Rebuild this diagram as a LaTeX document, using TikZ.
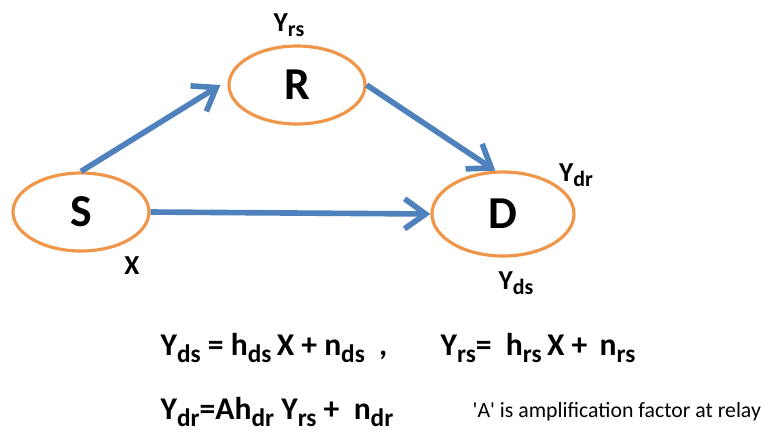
\documentclass[tikz,border=0pt]{standalone}
\usepackage{fontspec}
\usepackage{graphicx}
\setmainfont{Carlito}
\usetikzlibrary{arrows.meta,shapes.geometric,positioning}
\definecolor{nodeorange}{RGB}{240,150,75}
\definecolor{linkblue}{RGB}{79,129,189}
\newcommand{\lo}[1]{\raisebox{-0.4ex}{\scalebox{0.8}{#1}}}

\begin{document}
\begin{tikzpicture}[x=1cm,y=1cm]
\tikzset{
  relaynode/.style={ellipse,draw=nodeorange,line width=0.9pt,minimum width=1.36cm,minimum height=0.78cm,inner sep=0pt,font=\fontsize{13}{15}\selectfont\bfseries},
  link/.style={-{Straight Barb[length=2.1mm,width=3mm]},draw=linkblue,line width=1.6pt},
  sig/.style={font=\fontsize{7.8}{9}\selectfont\bfseries,inner sep=0pt},
  eqn/.style={font=\fontsize{9}{11}\selectfont\bfseries,inner sep=0pt,anchor=west}
}
\useasboundingbox (0,0) rectangle (7.71,-4.41);
\node[relaynode] (n_S) at (0.81,-2.12) {S};
\node[relaynode] (n_R) at (2.97,-0.85) {R};
\node[relaynode,minimum width=1.42cm,minimum height=0.84cm] (n_D) at (5.03,-2.14) {D};
\node[sig] (l_Yrs) at (2.89,-0.25) {Y\lo{rs}};
\node[sig] (l_Ydr) at (5.76,-1.75) {Y\lo{dr}};
\node[sig] (l_X) at (1.32,-2.66) {X};
\node[sig] (l_Yds) at (5.16,-2.83) {Y\lo{ds}};
\node[eqn] (e_ds) at (1.60,-3.48) {Y\lo{ds} {\small =} h\lo{ds}\,X + n\lo{ds}\ \ ,};
\node[eqn] (e_rs) at (4.40,-3.48) {Y\lo{rs}= \ h\lo{rs}\,X + \,n\lo{rs}};
\node[eqn] (e_dr) at (1.60,-4.12) {Y\lo{dr}=Ah\lo{dr} Y\lo{rs} + \ n\lo{dr}};
\node[eqn,font=\fontsize{6.2}{8}\selectfont] (e_note) at (4.72,-4.12) {\textquotesingle A\textquotesingle{} is amplification factor at relay};
\draw[link] (n_S.north) -- ([xshift=-2pt]n_R.west);
\draw[link] (n_R.east) -- (n_D.100);
\draw[link] (n_S.east) -- (n_D.west);
\end{tikzpicture}
\end{document}
